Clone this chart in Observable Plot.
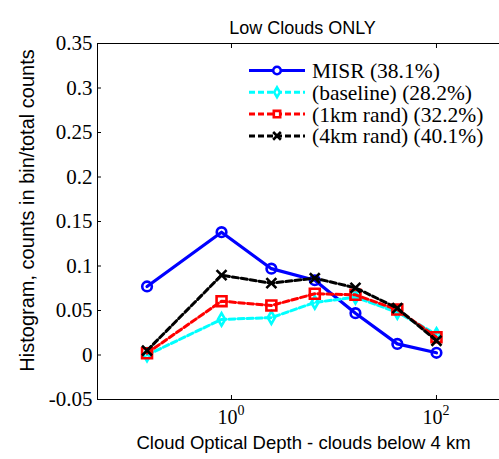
<!DOCTYPE html>
<html>
<head>
<meta charset="utf-8">
<script src="https://cdn.jsdelivr.net/npm/d3@7"></script>
<script src="https://cdn.jsdelivr.net/npm/@observablehq/plot@0.6"></script>
<style>
  html, body { margin: 0; padding: 0; background: #fff; }
  #chart { width: 499px; height: 459px; overflow: hidden; }
</style>
</head>
<body>
<div id="chart"></div>
<script>
// ---- data ----
const tau = [0.15, 0.8, 2.45, 6.5, 16.2, 41.5, 100];
const misr = [0.077, 0.138, 0.097, 0.084, 0.047, 0.0125, 0.0025];
const baseline = [0.0, 0.040, 0.042, 0.059, 0.065, 0.048, 0.023];
const rand1km = [0.002, 0.0605, 0.0556, 0.0688, 0.0676, 0.051, 0.020];
const rand4km = [0.005, 0.0897, 0.0807, 0.0863, 0.0755, 0.0526, 0.016];
const seriesNames = ["MISR (38.1%)", "(baseline) (28.2%)", "(1km rand) (32.2%)", "(4km rand) (40.1%)"];
const yTicks = [-0.05, 0, 0.05, 0.1, 0.15, 0.2, 0.25, 0.3, 0.35];
const yTickLabels = ["-0.05", "0", "0.05", "0.1", "0.15", "0.2", "0.25", "0.3", "0.35"];
const xTicks = [1, 100];
const xTickBase = ["10", "10"];
const xTickExp = ["0", "2"];
const titleText = "Low Clouds ONLY";
const xLabel = "Cloud Optical Depth - clouds below 4 km";
const yLabel = "Histogram, counts in bin/total counts";

// ---- styles ----
const styles = [
  {color: "#0000ff", dash: null, symbol: "circle", d3sym: d3.symbolCircle, r: 4.8, lr: 3.8},
  {color: "#00ffff", dash: "6,3", symbol: "diamond", d3sym: d3.symbolDiamond, r: 3.8, lr: 3.0},
  {color: "#ff0000", dash: "6,3", symbol: "square", d3sym: d3.symbolSquare, r: 5.6, lr: 3.6},
  {color: "#000000", dash: "6,3", symbol: "times", d3sym: d3.symbolTimes, r: 4.6, lr: 3.6}
];
const seriesValues = [misr, baseline, rand1km, rand4km];

const rows = [];
seriesValues.forEach((vals, s) => vals.forEach((v, i) => rows.push({s, x: tau[i], y: v})));

const xDomain = [0.0493, 412];
const yDomain = [-0.05, 0.35];

const lineMarks = [];
styles.forEach((st, s) => {
  const d = rows.filter(r => r.s === s);
  lineMarks.push(Plot.line(d, {x: "x", y: "y", stroke: st.color, strokeWidth: s === 0 ? 3.2 : 3, strokeDasharray: st.dash, strokeLinejoin: "round"}));
  lineMarks.push(Plot.dot(d, {x: "x", y: "y", stroke: st.color, strokeWidth: 2.6, fill: "none", symbol: st.symbol, r: st.r}));
});

const chart = Plot.plot({
  width: 499,
  height: 459,
  marginLeft: 97,
  marginRight: 0,
  marginTop: 43,
  marginBottom: 60,
  style: {fontFamily: "'Liberation Serif', serif", fontSize: "21px", background: "#fff", color: "#000"},
  x: {type: "log", domain: xDomain},
  y: {domain: yDomain},
  marks: [
    Plot.ruleY(yDomain, {stroke: "#000", strokeWidth: 1}),
    Plot.ruleX([xDomain[0]], {stroke: "#000", strokeWidth: 1}),
    Plot.axisY({ticks: yTicks, tickFormat: (d) => yTickLabels[yTicks.indexOf(d)], tickSize: -4, tickPadding: 9, label: null, fontSize: 21}),
    Plot.axisX({anchor: "bottom", ticks: xTicks, tickFormat: () => "", tickSize: -4, label: null}),
    Plot.axisX({anchor: "top", ticks: xTicks, tickFormat: () => "", tickSize: -4, label: null}),
    Plot.text(xTicks, {x: d => d, text: (d, i) => xTickBase[i], frameAnchor: "bottom", dy: 24, dx: 6, textAnchor: "end", fontSize: 20}),
    Plot.text(xTicks, {x: d => d, text: (d, i) => xTickExp[i], frameAnchor: "bottom", dy: 15, dx: 6, textAnchor: "start", fontSize: 14}),
    ...lineMarks,
    Plot.text([titleText], {text: d => d, frameAnchor: "top", textAnchor: "middle", dy: -22, dx: 4, fontFamily: "'Liberation Sans', Arial, sans-serif", fontSize: 18}),
    Plot.text([xLabel], {text: d => d, frameAnchor: "bottom", textAnchor: "middle", dy: 49, dx: 5, fontFamily: "'Liberation Sans', Arial, sans-serif", fontSize: 18.5}),
    Plot.text([yLabel], {text: d => d, frameAnchor: "left", textAnchor: "middle", rotate: -90, dx: -70, dy: -11, fontFamily: "'Liberation Sans', Arial, sans-serif", fontSize: 20})
  ]
});

document.getElementById("chart").appendChild(chart);

// ---- legend ----
const svg = d3.select(chart);
const lg = svg.append("g").attr("class", "legend").attr("text-anchor", "start");
const rowY0 = 70.5, rowStep = 21.8, lineX1 = 249, lineX2 = 305, markX = 277, textX = 312;
seriesNames.forEach((name, i) => {
  const st = styles[i];
  const y = rowY0 + i * rowStep;
  lg.append("line").attr("x1", lineX1).attr("x2", lineX2).attr("y1", y).attr("y2", y)
    .attr("stroke", st.color).attr("stroke-width", 3)
    .attr("stroke-dasharray", st.dash);
  lg.append("path").attr("transform", `translate(${markX},${y})`)
    .attr("d", d3.symbol(st.d3sym, Math.PI * st.lr * st.lr)())
    .attr("fill", "#fff").attr("stroke", st.color).attr("stroke-width", 2.6);
  lg.append("text").attr("x", textX).attr("y", y).attr("dy", "0.35em")
    .attr("text-anchor", "start")
    .attr("font-family", "'Liberation Serif', serif").attr("font-size", 21.5)
    .attr("fill", "#000").text(name);
});
</script>
</body>
</html>
